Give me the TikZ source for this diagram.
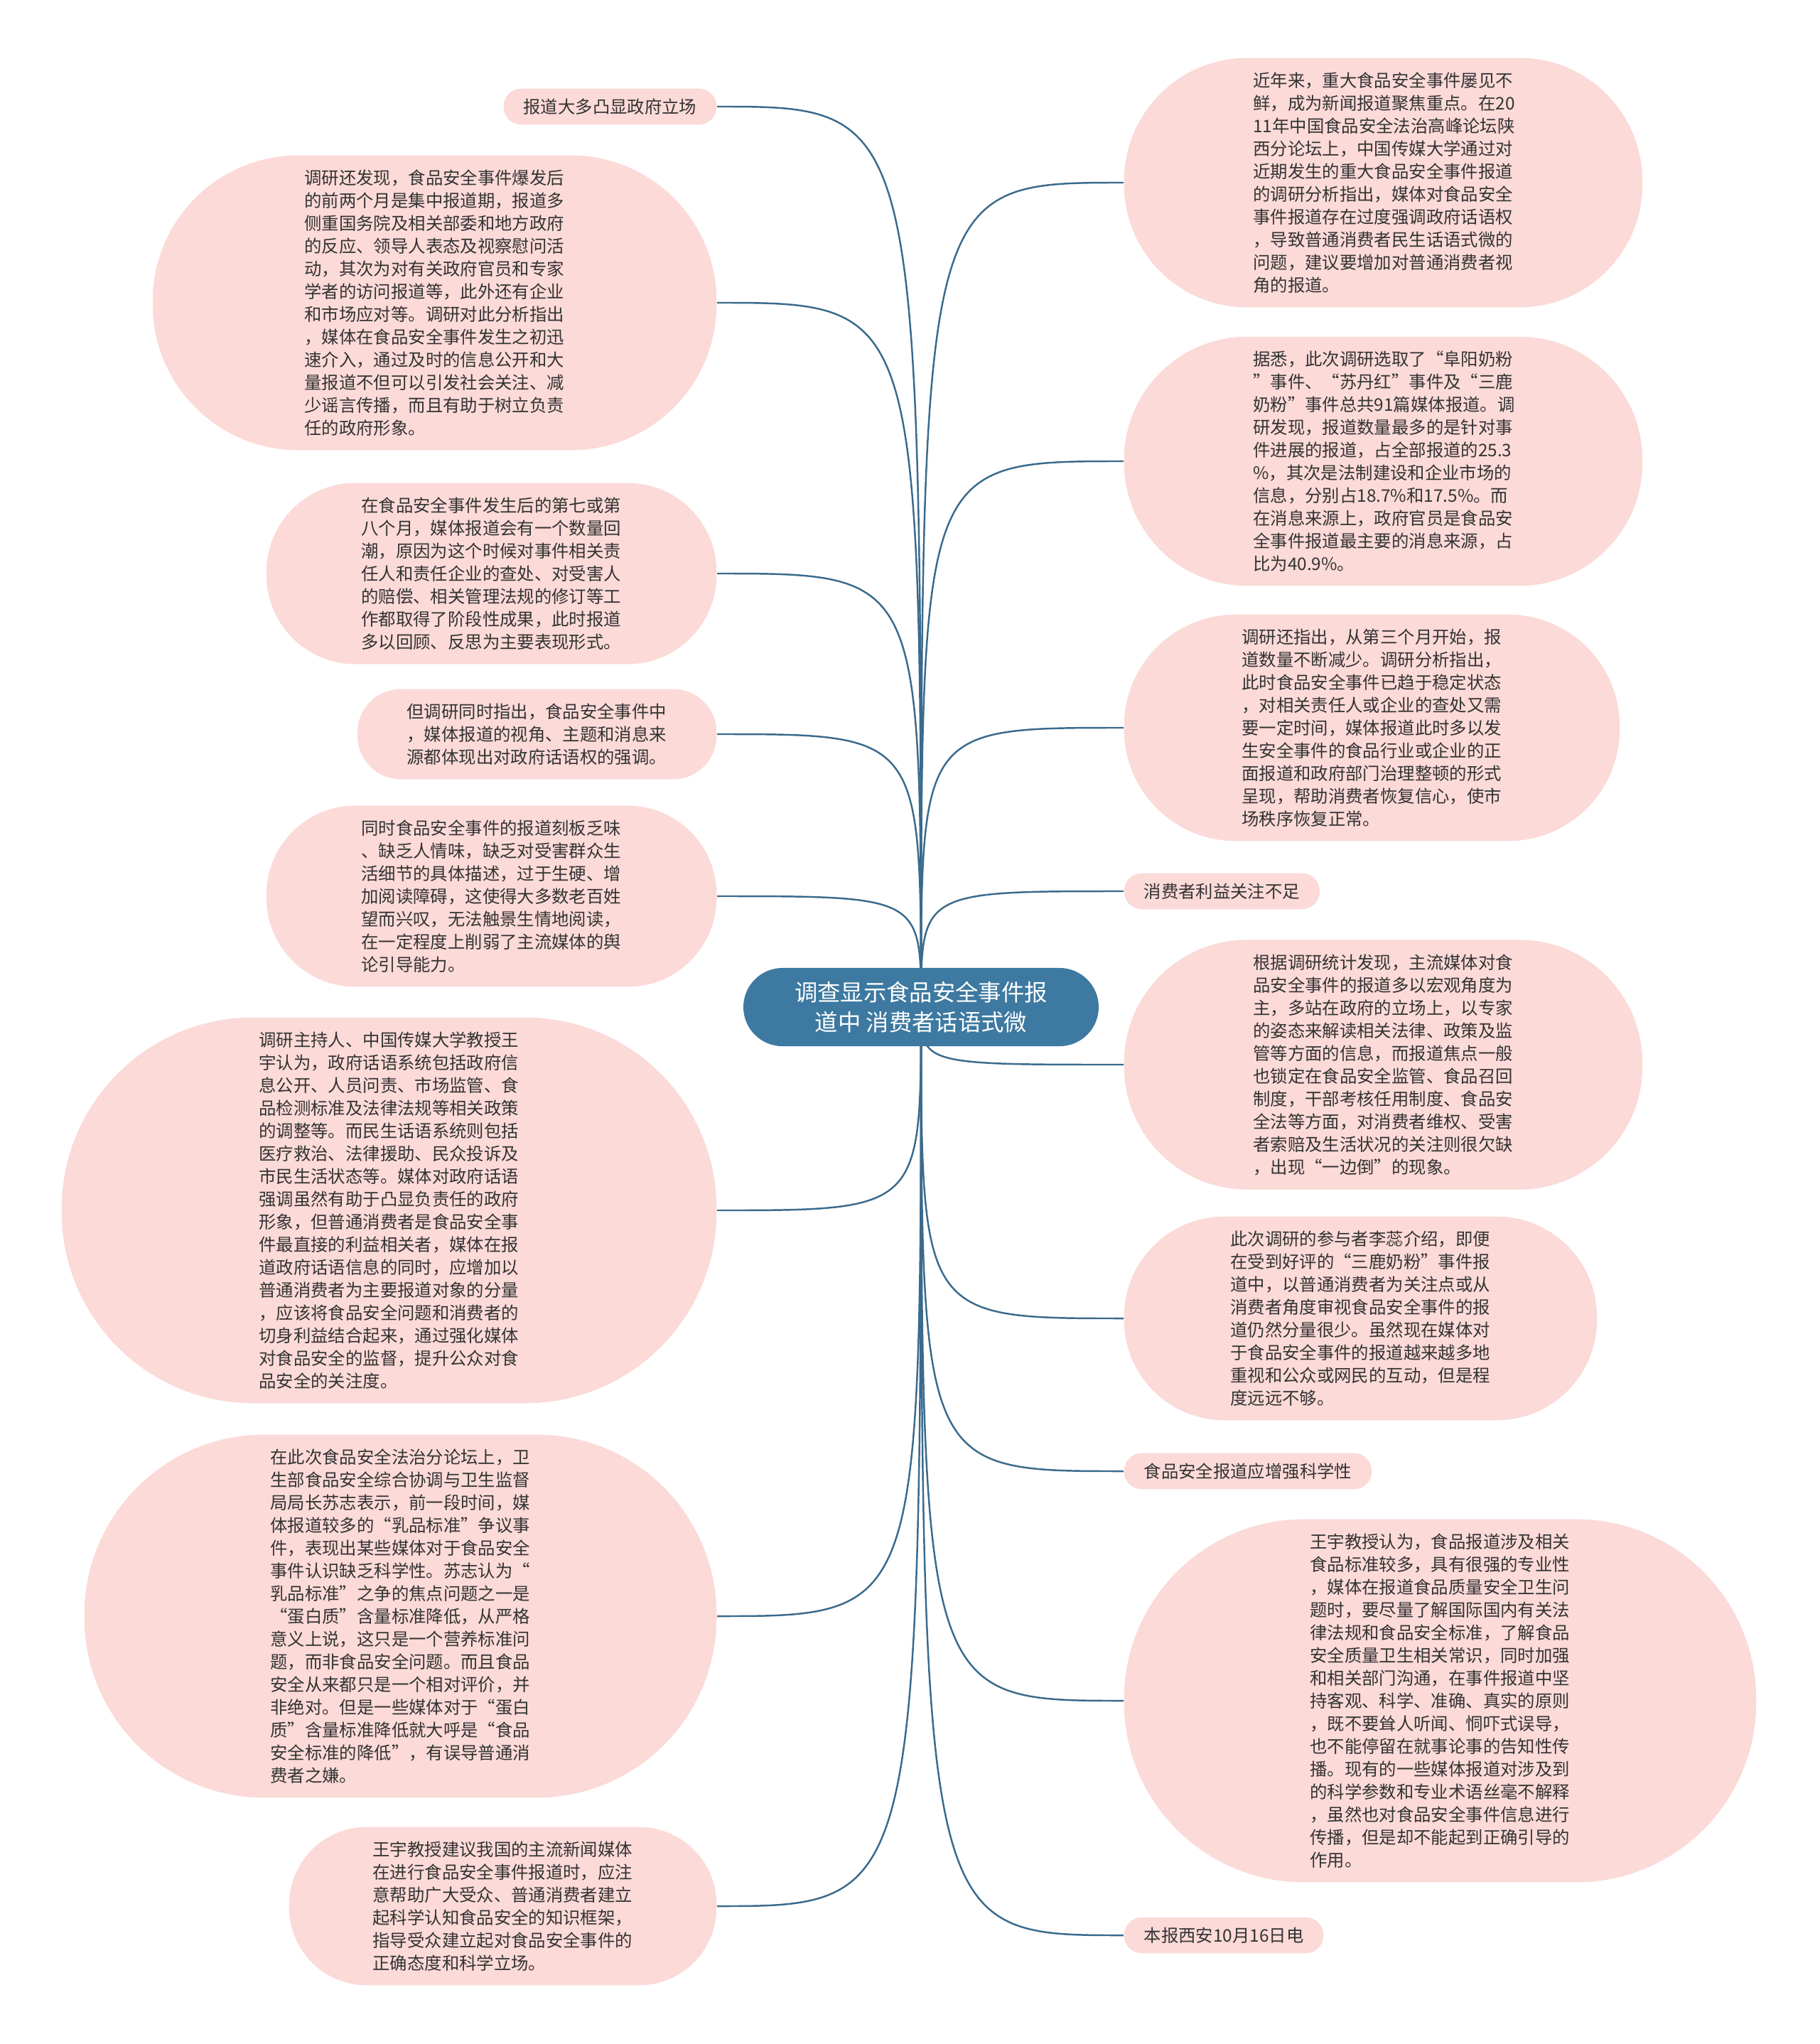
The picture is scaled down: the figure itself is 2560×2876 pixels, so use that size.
\documentclass[tikz,border=0pt]{standalone}
\usepackage{fontspec}
\setmainfont{Noto Sans CJK SC}
\usetikzlibrary{backgrounds}
\definecolor{leafpink}{RGB}{251,218,216}
\definecolor{rootblue}{RGB}{61,121,160}
\definecolor{linkblue}{RGB}{58,106,140}
\definecolor{textgray}{RGB}{51,51,51}
\tikzset{ % Common styles, so we don't repeat ourselves
	leafbox/.style={ % #1 = number of text lines
		rectangle, fill=leafpink, text=textgray, % Pink pill shape
		align=left, text width=3.66cm,
		inner ysep=0.2cm, inner xsep={0.375cm+(#1-1)*0.16cm}, % Ends as wide as half the height
		rounded corners={0.29cm+(#1-1)*0.16cm},
		font=\fontsize{6.93pt}{9.1pt}\selectfont
	},
	tagbox/.style={
		rectangle, fill=leafpink, text=textgray, % One-line label
		inner xsep=0.28cm, inner ysep=0.14cm, rounded corners=0.25cm,
		font=\fontsize{6.93pt}{9.1pt}\selectfont
	},
	rootbox/.style={
		rectangle, fill=rootblue, text=white, % The central topic
		align=center, inner xsep=0.72cm, inner ysep=0.19cm, rounded corners=0.55cm,
		font=\fontsize{9.2pt}{11.9pt}\selectfont
	},
	linkline/.style={draw=linkblue, line width=0.7pt}
}
\begin{document}
\begin{tikzpicture}[x=0.01cm,y=-0.01cm]
			\useasboundingbox (0,0) rectangle (2560,2876);
			% Central topic
			\node (root) [rootbox] at (1296,1417) {调查显示食品安全事件报\\道中 消费者话语式微};
			% Left branches
			\node (left1) [tagbox,anchor=east] at (1009,150) {报道大多凸显政府立场};
			\node (left2) [leafbox=12,anchor=east] at (1009,426) {调研还发现，食品安全事件爆发后\\的前两个月是集中报道期，报道多\\侧重国务院及相关部委和地方政府\\的反应、领导人表态及视察慰问活\\动，其次为对有关政府官员和专家\\学者的访问报道等，此外还有企业\\和市场应对等。调研对此分析指出\\，媒体在食品安全事件发生之初迅\\速介入，通过及时的信息公开和大\\量报道不但可以引发社会关注、减\\少谣言传播，而且有助于树立负责\\任的政府形象。};
			\node (left3) [leafbox=7,anchor=east] at (1009,807) {在食品安全事件发生后的第七或第\\八个月，媒体报道会有一个数量回\\潮，原因为这个时候对事件相关责\\任人和责任企业的查处、对受害人\\的赔偿、相关管理法规的修订等工\\作都取得了阶段性成果，此时报道\\多以回顾、反思为主要表现形式。};
			\node (left4) [leafbox=3,anchor=east] at (1009,1033) {但调研同时指出，食品安全事件中\\，媒体报道的视角、主题和消息来\\源都体现出对政府话语权的强调。};
			\node (left5) [leafbox=7,anchor=east] at (1009,1261) {同时食品安全事件的报道刻板乏味\\、缺乏人情味，缺乏对受害群众生\\活细节的具体描述，过于生硬、增\\加阅读障碍，这使得大多数老百姓\\望而兴叹，无法触景生情地阅读，\\在一定程度上削弱了主流媒体的舆\\论引导能力。};
			\node (left6) [leafbox=16,anchor=east] at (1009,1703) {调研主持人、中国传媒大学教授王\\宇认为，政府话语系统包括政府信\\息公开、人员问责、市场监管、食\\品检测标准及法律法规等相关政策\\的调整等。而民生话语系统则包括\\医疗救治、法律援助、民众投诉及\\市民生活状态等。媒体对政府话语\\强调虽然有助于凸显负责任的政府\\形象，但普通消费者是食品安全事\\件最直接的利益相关者，媒体在报\\道政府话语信息的同时，应增加以\\普通消费者为主要报道对象的分量\\，应该将食品安全问题和消费者的\\切身利益结合起来，通过强化媒体\\对食品安全的监督，提升公众对食\\品安全的关注度。};
			\node (left7) [leafbox=15,anchor=east] at (1009,2274) {在此次食品安全法治分论坛上，卫\\生部食品安全综合协调与卫生监督\\局局长苏志表示，前一段时间，媒\\体报道较多的“乳品标准”争议事\\件，表现出某些媒体对于食品安全\\事件认识缺乏科学性。苏志认为“\\乳品标准”之争的焦点问题之一是\\“蛋白质”含量标准降低，从严格\\意义上说，这只是一个营养标准问\\题，而非食品安全问题。而且食品\\安全从来都只是一个相对评价，并\\非绝对。但是一些媒体对于“蛋白\\质”含量标准降低就大呼是“食品\\安全标准的降低”，有误导普通消\\费者之嫌。};
			\node (left8) [leafbox=6,anchor=east] at (1009,2682) {王宇教授建议我国的主流新闻媒体\\在进行食品安全事件报道时，应注\\意帮助广大受众、普通消费者建立\\起科学认知食品安全的知识框架，\\指导受众建立起对食品安全事件的\\正确态度和科学立场。};
			% Right branches
			\node (right1) [leafbox=10,anchor=west] at (1581,257) {近年来，重大食品安全事件屡见不\\鲜，成为新闻报道聚焦重点。在20\\11年中国食品安全法治高峰论坛陕\\西分论坛上，中国传媒大学通过对\\近期发生的重大食品安全事件报道\\的调研分析指出，媒体对食品安全\\事件报道存在过度强调政府话语权\\，导致普通消费者民生话语式微的\\问题，建议要增加对普通消费者视\\角的报道。};
			\node (right2) [leafbox=10,anchor=west] at (1581,649) {据悉，此次调研选取了“阜阳奶粉\\”事件、“苏丹红”事件及“三鹿\\奶粉”事件总共91篇媒体报道。调\\研发现，报道数量最多的是针对事\\件进展的报道，占全部报道的25.3\\\%，其次是法制建设和企业市场的\\信息，分别占18.7\%和17.5\%。而\\在消息来源上，政府官员是食品安\\全事件报道最主要的消息来源，占\\比为40.9\%。};
			\node (right3) [leafbox=9,anchor=west] at (1581,1024) {调研还指出，从第三个月开始，报\\道数量不断减少。调研分析指出，\\此时食品安全事件已趋于稳定状态\\，对相关责任人或企业的查处又需\\要一定时间，媒体报道此时多以发\\生安全事件的食品行业或企业的正\\面报道和政府部门治理整顿的形式\\呈现，帮助消费者恢复信心，使市\\场秩序恢复正常。};
			\node (right4) [tagbox,anchor=west] at (1581,1254) {消费者利益关注不足};
			\node (right5) [leafbox=10,anchor=west] at (1581,1498) {根据调研统计发现，主流媒体对食\\品安全事件的报道多以宏观角度为\\主，多站在政府的立场上，以专家\\的姿态来解读相关法律、政策及监\\管等方面的信息，而报道焦点一般\\也锁定在食品安全监管、食品召回\\制度，干部考核任用制度、食品安\\全法等方面，对消费者维权、受害\\者索赔及生活状况的关注则很欠缺\\，出现“一边倒”的现象。};
			\node (right6) [leafbox=8,anchor=west] at (1581,1855) {此次调研的参与者李蕊介绍，即便\\在受到好评的“三鹿奶粉”事件报\\道中，以普通消费者为关注点或从\\消费者角度审视食品安全事件的报\\道仍然分量很少。虽然现在媒体对\\于食品安全事件的报道越来越多地\\重视和公众或网民的互动，但是程\\度远远不够。};
			\node (right7) [tagbox,anchor=west] at (1581,2070) {食品安全报道应增强科学性};
			\node (right8) [leafbox=15,anchor=west] at (1581,2393) {王宇教授认为，食品报道涉及相关\\食品标准较多，具有很强的专业性\\，媒体在报道食品质量安全卫生问\\题时，要尽量了解国际国内有关法\\律法规和食品安全标准，了解食品\\安全质量卫生相关常识，同时加强\\和相关部门沟通，在事件报道中坚\\持客观、科学、准确、真实的原则\\，既不要耸人听闻、恫吓式误导，\\也不能停留在就事论事的告知性传\\播。现有的一些媒体报道对涉及到\\的科学参数和专业术语丝毫不解释\\，虽然也对食品安全事件信息进行\\传播，但是却不能起到正确引导的\\作用。};
			\node (right9) [tagbox,anchor=west] at (1581,2723) {本报西安10月16日电};
			% Connectors, behind the boxes
			\begin{scope}[on background layer]
				\fill [white] (0,0) rectangle (2560,2876);
				\foreach \leaf in {left1,left2,left3,left4,left5,left6,left7,left8}
					\draw [linkline] (root.center) .. controls (root.center |- \leaf.east) .. (\leaf.east);
				\foreach \leaf in {right1,right2,right3,right4,right5,right6,right7,right8,right9}
					\draw [linkline] (root.center) .. controls (root.center |- \leaf.west) .. (\leaf.west);
			\end{scope}
		\end{tikzpicture}
\end{document}
